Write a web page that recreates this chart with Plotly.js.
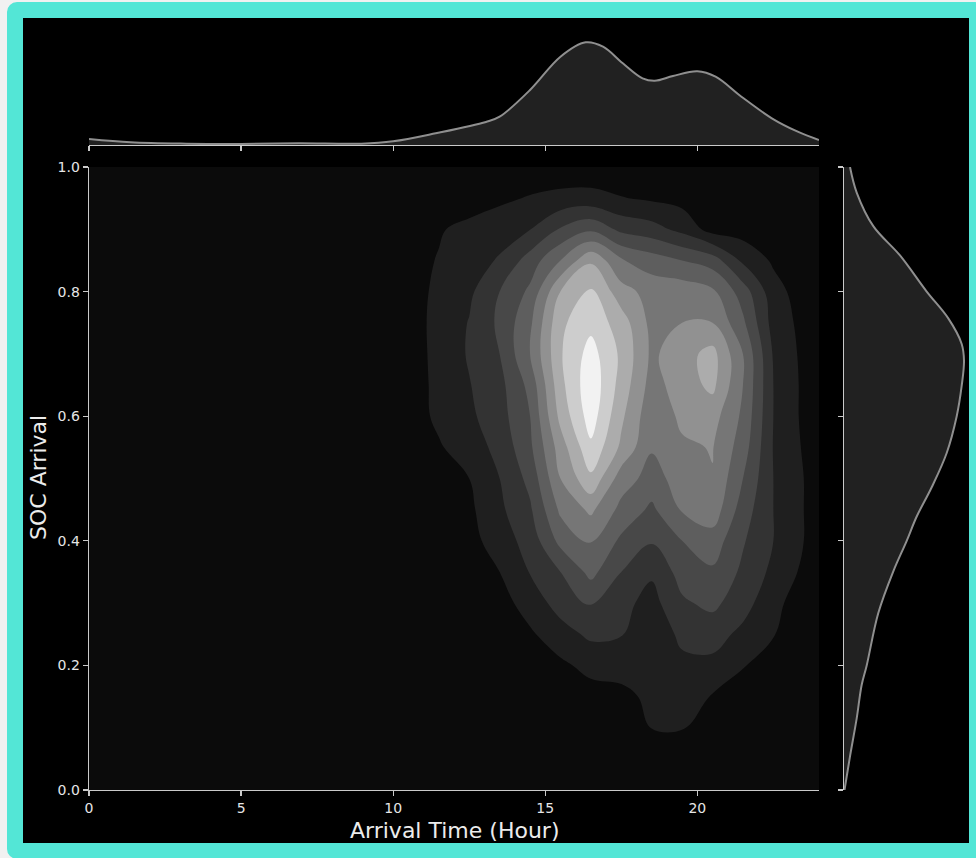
<!DOCTYPE html>
<html><head><meta charset="utf-8">
<script src="https://cdn.plot.ly/plotly-3.0.1.min.js"></script>
<style>
html,body{margin:0;padding:0;background:#f1f1f1;width:976px;height:858px;overflow:hidden;}
#frame{position:absolute;left:7px;top:2px;width:946px;height:825px;border:16px solid #53e6d6;border-radius:10px;background:#000;}
#plot{position:absolute;left:0;top:0;width:976px;height:858px;}
</style></head>
<body>
<div id="frame"></div>
<div id="plot"></div>
<script>
// ---- data ----
// KDE grid (density expressed in contour-level units)
const gridHours = [0, 10.5, 11.5, 12.5, 13.5, 14.5, 15.5, 16.5, 17.5, 18.5, 19.5, 20.5, 21.5, 22.5, 23.5, 24];
const gridSoc = [0, 0.05, 0.1, 0.15, 0.2, 0.25, 0.3, 0.35, 0.4, 0.45, 0.5, 0.55, 0.6, 0.65, 0.7, 0.75, 0.8, 0.85, 0.9, 0.95, 1.0];
const density2d = [
  [0, 0,0,0,0,0,0,0.05,0.1,0.15,0.15,0.1,0.05,0,0,0],
  [0, 0,0,0,0,0.02,0.08,0.12,0.2,0.4,0.45,0.3,0.15,0.05,0.02,0],
  [0, 0,0,0,0.02,0.05,0.15,0.3,0.5,1.02,1.05,0.6,0.3,0.1,0.03,0.02],
  [0, 0,0,0,0.05,0.1,0.35,0.6,0.7,1.25,1.3,0.95,0.6,0.3,0.1,0.05],
  [0, 0,0,0.05,0.15,0.4,0.8,1.3,1.45,1.35,1.8,1.75,1.05,0.6,0.2,0.1],
  [0, 0,0,0.1,0.35,0.85,1.6,2.2,2.05,1.4,2.2,2.4,1.75,1.05,0.35,0.2],
  [0, 0,0.05,0.25,0.6,1.45,2.4,3.1,2.3,1.65,2.85,3.25,2.4,1.3,0.45,0.25],
  [0, 0,0.15,0.45,1.0,2.05,3.0,4.3,3.0,2.15,3.4,3.85,2.8,1.75,0.8,0.5],
  [0, 0.05,0.3,0.65,1.5,2.4,4.3,5.1,3.8,3.1,4.0,4.55,3.1,2.0,1.0,0.6],
  [0, 0.1,0.4,0.8,1.8,2.85,5.2,6.2,4.7,3.8,5.1,5.6,3.5,2.0,1.0,0.6],
  [0, 0.2,0.6,1.0,2.0,3.3,6.0,7.8,5.5,4.6,5.45,5.95,4.0,2.0,1.0,0.6],
  [0, 0.35,0.9,1.5,2.3,3.8,6.5,8.8,6.8,5.1,5.85,6.05,4.5,1.95,0.9,0.55],
  [0, 0.5,1.2,1.8,2.6,4.0,7.3,9.5,7.2,5.3,6.2,6.4,4.8,2.0,0.8,0.5],
  [0, 0.5,1.25,1.95,2.7,4.3,7.7,9.7,7.6,5.6,6.5,7.25,5.0,2.0,0.8,0.5],
  [0, 0.5,1.3,2.1,3.0,5.0,7.9,9.4,7.8,5.8,6.6,7.35,5.0,1.9,0.75,0.45],
  [0, 0.55,1.3,2.05,3.2,4.8,7.8,8.7,7.5,5.7,6.0,6.0,4.2,1.6,0.7,0.4],
  [0, 0.6,1.2,1.8,3.0,4.2,7.0,8.2,6.4,5.6,5.6,5.2,3.5,1.4,0.5,0.3],
  [0, 0.7,1.05,1.55,2.1,3.45,5.0,6.85,5.1,4.5,4.0,3.5,1.8,0.85,0.4,0.25],
  [0, 0.6,0.92,1.25,1.6,1.97,3.1,3.8,2.75,2.4,1.7,0.6,0.55,0.35,0.15,0.1],
  [0, 0.1,0.3,0.55,0.8,1.08,1.3,1.35,1.05,0.85,0.65,0.45,0.3,0.15,0.05,0],
  [0, 0,0.05,0.12,0.2,0.3,0.3,0.3,0.25,0.2,0.15,0.1,0.05,0.02,0,0]
];
const bandColors = ['#0b0b0b','#1f1f1f','#333333','#484848','#5e5e5e','#767676','#919191','#acacac','#cdcdcd','#f2f2f2'];

// marginal KDE of arrival time
const hourPts = [0, 1.37, 3.2, 5, 6.9, 8.95, 10, 11.4, 13.05, 13.5, 14.5, 15.5, 16.33, 16.9, 17.55, 18.2, 18.6, 19.2, 20.0, 20.6, 21.45, 22.45, 23.3, 24];
const hourDensity = [0.006, 0.0027, 0.0013, 0.001, 0.0017, 0.0013, 0.0037, 0.0117, 0.023, 0.0283, 0.055, 0.0883, 0.1027, 0.0983, 0.0817, 0.0667, 0.0643, 0.069, 0.0737, 0.0683, 0.0483, 0.0267, 0.0133, 0.005];

// marginal KDE of SOC
const socPts = [0, 0.054, 0.115, 0.169, 0.2, 0.284, 0.351, 0.4, 0.439, 0.486, 0.541, 0.6, 0.649, 0.689, 0.716, 0.757, 0.8, 0.858, 0.905, 0.959, 1.0];
const socDensity = [0.01, 0.12, 0.254, 0.354, 0.454, 0.686, 0.986, 1.254, 1.454, 1.754, 2.054, 2.254, 2.354, 2.4, 2.354, 2.086, 1.654, 1.12, 0.586, 0.254, 0.12];

const xTicks = [0, 5, 10, 15, 20];
const yTicks = [0, 0.2, 0.4, 0.6, 0.8, 1.0];
const yTickText = ['0.0', '0.2', '0.4', '0.6', '0.8', '1.0'];

// ---- figure ----
const axisCol = '#cacaca';
const font = 'DejaVu Sans, sans-serif';
const traces = [
  {
    type: 'contour', x: gridHours, y: gridSoc, z: density2d,
    xaxis: 'x', yaxis: 'y',
    contours: {start: 1, end: 9, size: 1, coloring: 'fill', showlines: false},
    line: {width: 0, smoothing: 1.1},
    colorscale: bandColors.map((c, i) => [i / (bandColors.length - 1), c]),
    showscale: false, hoverinfo: 'skip'
  },
  {
    type: 'scatter', mode: 'lines', x: hourPts, y: hourDensity,
    xaxis: 'x2', yaxis: 'y2',
    line: {color: '#8f8f8f', width: 2, shape: 'spline', smoothing: 1},
    fill: 'tozeroy', fillcolor: '#212121', hoverinfo: 'skip'
  },
  {
    type: 'scatter', mode: 'lines', x: socDensity, y: socPts,
    xaxis: 'x3', yaxis: 'y3',
    line: {color: '#8f8f8f', width: 2, shape: 'spline', smoothing: 1},
    fill: 'tozerox', fillcolor: '#212121', hoverinfo: 'skip'
  }
];
const W = 976, H = 858;
const xd = [89 / W, 819 / W];
const yd = [1 - 790 / H, 1 - 167 / H];
const baseAxis = {
  showgrid: false, zeroline: false, showline: true, linecolor: axisCol, linewidth: 1.4,
  ticks: 'outside', ticklen: 5, tickwidth: 1.2, tickcolor: axisCol,
  tickfont: {family: font, size: 14, color: '#e6e6e6'}
};
const layout = {
  width: W, height: H,
  margin: {l: 0, r: 0, t: 0, b: 0},
  paper_bgcolor: 'rgba(0,0,0,0)', plot_bgcolor: '#000000',
  showlegend: false,
  xaxis: Object.assign({}, baseAxis, {domain: xd, range: [0, 24], tickvals: xTicks, anchor: 'y'}),
  yaxis: Object.assign({}, baseAxis, {domain: yd, range: [0, 1], tickvals: yTicks, ticktext: yTickText, anchor: 'x'}),
  xaxis2: Object.assign({}, baseAxis, {domain: xd, range: [0, 24], tickvals: xTicks, showticklabels: false, anchor: 'y2'}),
  yaxis2: {domain: [1 - 145 / H, 1 - 20.4 / H], range: [0, 0.1246], visible: false, anchor: 'x2'},
  xaxis3: {domain: [844 / W, 968.6 / W], range: [0, 2.492], visible: false, anchor: 'y3'},
  yaxis3: Object.assign({}, baseAxis, {domain: yd, range: [0, 1], tickvals: yTicks, showticklabels: false, anchor: 'x3'}),
  annotations: [
    {text: 'Arrival Time (Hour)', xref: 'paper', yref: 'paper', x: 454 / W, y: 1 - 830 / H,
     xanchor: 'center', yanchor: 'middle', showarrow: false, font: {family: font, size: 22, color: '#ececec'}},
    {text: 'SOC Arrival', xref: 'paper', yref: 'paper', x: 38 / W, y: 1 - 478 / H, textangle: -90,
     xanchor: 'center', yanchor: 'middle', showarrow: false, font: {family: font, size: 22, color: '#ececec'}}
  ]
};
Plotly.newPlot('plot', traces, layout, {displayModeBar: false, staticPlot: true});
</script>
</body></html>
